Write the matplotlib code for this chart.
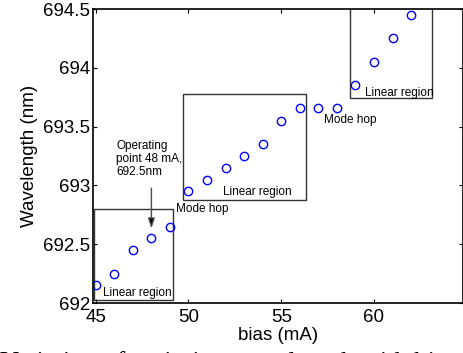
import matplotlib.pyplot as plt
from matplotlib.patches import Rectangle
from matplotlib.ticker import FuncFormatter

plt.rcParams["font.family"] = ["Liberation Sans", "DejaVu Sans"]

# measured points: bias current vs emission wavelength
bias_ma = [45, 46, 47, 48, 49, 50, 51, 52, 53, 54, 55, 56, 57, 58, 59, 60, 61, 62]
wavelength_nm = [692.15, 692.25, 692.45, 692.55, 692.65, 692.95, 693.05, 693.15, 693.25,
                 693.35, 693.55, 693.66, 693.66, 693.66, 693.85, 694.05, 694.25, 694.45]

# boxed regions (x0, x1, y0, y1) in data units
regions = [
    (44.93, 49.19, 692.025, 692.80),
    (49.72, 56.34, 692.876, 693.78),
    (58.71, 63.14, 693.74, 694.52),
]

x_ticks = [45, 50, 55, 60]
y_ticks = [692, 692.5, 693, 693.5, 694, 694.5]

fig = plt.figure(figsize=(4.64, 3.53), dpi=100)
ax = fig.add_axes([0.2004, 0.1416, 0.7974, 0.8329])

ax.plot(bias_ma, wavelength_nm, "o", mfc="none", mec="blue", ms=6, mew=1)

for x0, x1, y0, y1 in regions:
    ax.add_patch(Rectangle((x0, y0), x1 - x0, y1 - y0, fill=False, ec="0.2", lw=1, clip_on=True))

small = dict(fontsize=8.5, va="center")
ax.text(45.38, 692.085, "Linear region", **small)
ax.text(49.31, 692.80, "Mode hop", **small)
ax.text(51.85, 692.94, "Linear region", **small)
ax.text(57.32, 693.56, "Mode hop", **small)
ax.text(59.52, 693.79, "Linear region", **small)
ax.text(46.10, 693.385, "Operating\npoint 48 mA,\n692.5nm", fontsize=8.5, va="top",
        linespacing=1.1)

ax.annotate("", xy=(48, 692.61), xytext=(48, 693.0),
            arrowprops=dict(arrowstyle="-|>,head_length=0.6,head_width=0.2",
                            color="0.3", fc="black", lw=1))

ax.set_xlim(44.85, 64.8)
ax.set_ylim(692, 694.5)
ax.set_xticks(x_ticks)
ax.set_yticks(y_ticks)
ax.yaxis.set_major_formatter(FuncFormatter(lambda v, _: f"{v:g}"))
ax.tick_params(direction="in", top=True, right=True, length=3, labelsize=13.5, pad=2)
ax.tick_params(axis="x", pad=4)
for s in ax.spines.values():
    s.set_linewidth(1.2)

ax.set_xlabel("bias (mA)", fontsize=13.5, labelpad=1)
ax.set_ylabel("Wavelength (nm)", fontsize=13.5, labelpad=4)

# caption of the source figure, mostly cut off at the bottom edge
fig.text(0.0, -16 / 353, "Variation of emission wavelength with bias",
         family=["Liberation Serif", "DejaVu Serif"], fontsize=19, va="baseline", ha="left")

fig.savefig("out.png", dpi=100)
